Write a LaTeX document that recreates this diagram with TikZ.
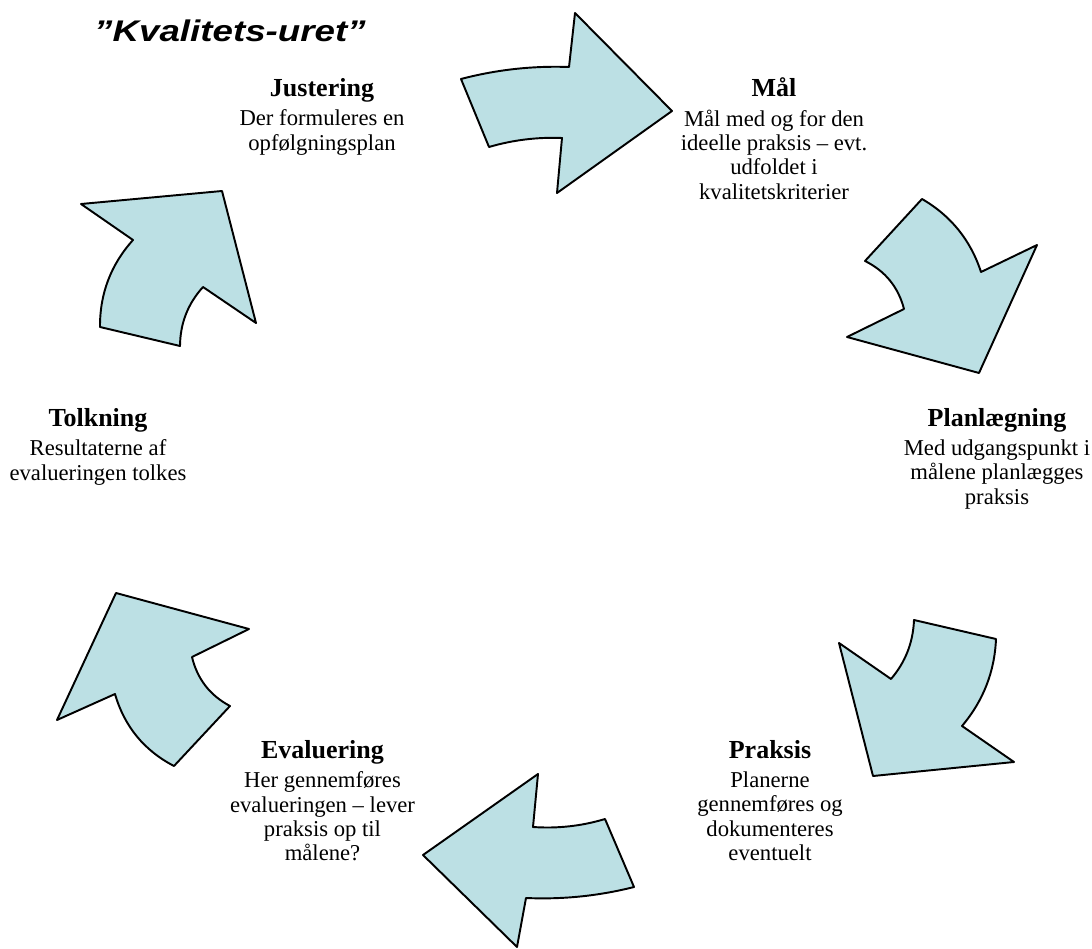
\documentclass[tikz,border=0pt]{standalone}
\usepackage{fontspec}
\setmainfont{Liberation Serif}
\newfontfamily\titelfont{Liberation Sans}
\usetikzlibrary{positioning}

\definecolor{pilblaa}{RGB}{188,224,228}

\begin{document}
\begin{tikzpicture}[x=0.02cm, y=-0.02cm,
    pil/.style={draw=black, line width=1.1pt, line join=round, fill=pilblaa},
    overskrift/.style={inner sep=0pt, anchor=base, font=\fontsize{14.8}{17}\selectfont\bfseries},
    tekst/.style={inner sep=0pt, align=center, font=\fontsize{12.9}{13.9}\selectfont},
    titel/.style={inner sep=0pt, anchor=base, font=\titelfont\fontsize{17}{20}\selectfont\bfseries\itshape}]
    \useasboundingbox (0,0) rectangle (1092,949);

    \node[titel] (titel) at (230,41.5) {\scalebox{1.23}[1]{”Kvalitets-uret”}};

    % pilene rundt om uret
    \draw[pil] (461,79) .. controls (496.4,69.7) and (532.4,65.7) .. (569,67) -- (575,13) -- (672,111) -- (557,193) -- (562,138) .. controls (537.2,137) and (512.8,140) .. (489,147) -- cycle;
    \draw[pil] (922,199) .. controls (951,215.8) and (970.6,240.2) .. (981,272) -- (1037,245) -- (979,373) -- (847,337) -- (904,309) .. controls (898.3,287.1) and (885.3,271.1) .. (865,261) -- cycle;
    \draw[pil] (891,679) .. controls (905.5,662) and (913.1,642.4) .. (914,620) -- (996,639) .. controls (994.6,671.9) and (983.2,700.9) .. (962,726) -- (1014,762) -- (873,776) -- (839,643) -- cycle;
    \draw[pil] (533,827) .. controls (557.5,828.7) and (581.5,826.1) .. (605,819) -- (634,887) .. controls (598.5,896) and (562.5,899.6) .. (526,898) -- (517,947) -- (423,855) -- (538,774) -- cycle;
    \draw[pil] (192,657) .. controls (197.3,679) and (209.9,695.4) .. (230,706) -- (174,766) .. controls (144,750.4) and (124.4,726.4) .. (115,694) -- (57,720) -- (116,593) -- (249,629) -- cycle;
    \draw[pil] (100,327) .. controls (99.8,293.7) and (110.8,264.7) .. (133,240) -- (81,204) -- (222,191) -- (256,323) -- (203,287) .. controls (187.8,303.8) and (180.2,323.4) .. (180,346) -- cycle;

    \node[overskrift] (justering) at (322,96.5) {Justering};
    \node[tekst, below=7.3pt of justering.base] (justeringtekst) {Der formuleres en\\opfølgningsplan};

    \node[overskrift] (maal) at (774,96.5) {Mål};
    \node[tekst, below=7.3pt of maal.base] (maaltekst) {Mål med og for den\\ideelle praksis – evt.\\udfoldet i\\kvalitetskriterier};

    \node[overskrift] (planlaegning) at (997,426.5) {Planlægning};
    \node[tekst, below=7.3pt of planlaegning.base] (planlaegningtekst) {Med udgangspunkt i\\målene planlægges\\praksis};

    \node[overskrift] (praksis) at (770,758.5) {Praksis};
    \node[tekst, below=7.3pt of praksis.base] (praksistekst) {Planerne\\gennemføres og\\dokumenteres\\eventuelt};

    \node[overskrift] (evaluering) at (322.5,758.5) {Evaluering};
    \node[tekst, below=7.3pt of evaluering.base] (evalueringtekst) {Her gennemføres\\evalueringen – lever\\praksis op til\\målene?};

    \node[overskrift] (tolkning) at (98,426.5) {Tolkning};
    \node[tekst, below=7.3pt of tolkning.base] (tolkningtekst) {Resultaterne af\\evalueringen tolkes};
\end{tikzpicture}
\end{document}
